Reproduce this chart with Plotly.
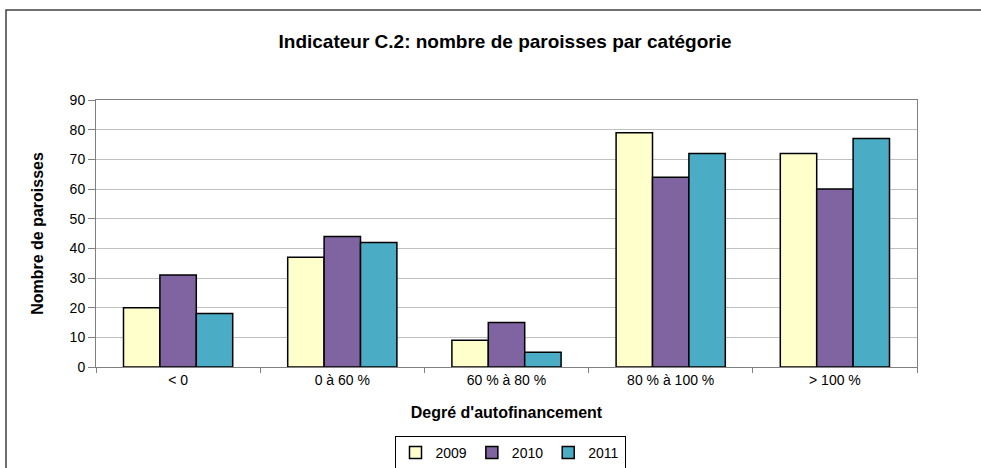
import plotly.graph_objects as go

categories = ["< 0", "0 à 60 %", "60 % à 80 %", "80 % à 100 %", "> 100 %"]
years = ["2009", "2010", "2011"]
v2009 = [20, 37, 9, 79, 72]
v2010 = [31, 44, 15, 64, 60]
v2011 = [18, 42, 5, 72, 77]
colors = ["#FFFFCC", "#8064A2", "#4BACC6"]

fig = go.Figure()
for name, vals, c in zip(years, [v2009, v2010, v2011], colors):
    fig.add_trace(go.Bar(x=categories, y=vals, name=name,
                         marker=dict(color=c, line=dict(color="#000000", width=1.5))))

font = "Liberation Sans, Arial, sans-serif"
L, R, T, B = 96, 64, 100, 101
PW, PH = 981 - L - R, 468 - T - B
fig.update_layout(
    width=981, height=468,
    margin=dict(l=L, r=R, t=T, b=B, autoexpand=False),
    paper_bgcolor="white", plot_bgcolor="white",
    barmode="group", bargap=0.335, bargroupgap=0,
    font=dict(family=font, size=14, color="#000000"),
    title=dict(text="<b>Indicateur C.2: nombre de paroisses par catégorie</b>", x=(505 - L) / PW,
               xref="paper", xanchor="center",
               y=1 - 41/468, yanchor="middle", font=dict(size=19, family=font)),
    showlegend=True,
    legend=dict(orientation="h", x=(510 - L) / PW, xanchor="center", y=-(436 - (T + PH)) / PH, yanchor="top",
                bordercolor="#000000", borderwidth=1, font=dict(size=14),
                itemwidth=30, traceorder="normal"),
    xaxis=dict(title=dict(text="<b>Degré d'autofinancement</b>", font=dict(size=16), standoff=20),
               automargin=False,
               showline=True, linecolor="#808080", linewidth=1, mirror=True,
               ticks="outside", tickson="boundaries", ticklen=5, tickcolor="#808080",
               showgrid=False, tickfont=dict(size=14)),
    yaxis=dict(title=dict(text="<b>Nombre de paroisses</b>", font=dict(size=16), standoff=22),
               automargin=False,
               range=[0, 90], dtick=10, showline=True, linecolor="#808080", linewidth=1, mirror=True,
               ticks="outside", ticklen=7, tickcolor="#808080",
               showgrid=True, gridcolor="#C0C0C0", gridwidth=1, tickfont=dict(size=14), zeroline=False),
)
# outer chart frame
fig.add_shape(type="rect", xref="paper", yref="paper",
              x0=(6 - L) / PW, x1=(1000 - L) / PW, y0=-(500 - (T + PH)) / PH, y1=(T + PH - 10) / PH,
              line=dict(color="#404040", width=1.5), layer="below")
fig.write_html("out.html", config={"displayModeBar": False},
               post_script="document.body.style.margin='0px';")
